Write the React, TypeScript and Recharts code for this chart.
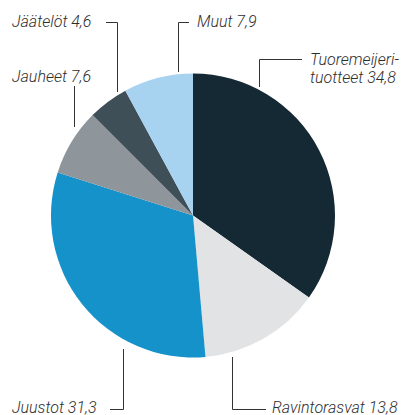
import React from "react";
import { PieChart, Pie, Cell } from "recharts";

const categories = ["Tuoremeijeri-tuotteet", "Ravintorasvat", "Juustot", "Jauheet", "Jäätelöt", "Muut"];
const shares = [34.8, 13.8, 31.3, 7.6, 4.6, 7.9];
const labelTexts = [
  ["Tuoremeijeri-", "tuotteet 34,8"],
  ["Ravintorasvat 13,8"],
  ["Juustot 31,3"],
  ["Jauheet 7,6"],
  ["Jäätelöt 4,6"],
  ["Muut 7,9"],
];

const colors = ["#152935", "#e2e3e5", "#1592ca", "#8e959b", "#3e4f58", "#a8d3f0"];

const data = categories.map((name, i) => ({ name, value: shares[i] }));

// label layout: text anchor + leader polyline
const layout = [
  { x: 310, y: [65, 83], line: [[302, 59.5], [259.5, 59.5], [259.5, 87]] },
  { x: 272, y: [413], line: [[266, 409.5], [232.5, 409.5], [232.5, 357]] },
  { x: 12, y: [413], line: [[110, 409.5], [123.5, 409.5], [123.5, 349]] },
  { x: 12, y: [82], line: [[74.5, 86], [74.5, 127]] },
  { x: 12, y: [27], line: [[106, 22.5], [117.5, 22.5], [117.5, 92]] },
  { x: 197, y: [27], line: [[189, 22.5], [178.5, 22.5], [178.5, 72]] },
];

const renderLabel = (props: any) => {
  const i = props.index;
  const l = layout[i];
  return (
    <g key={"lbl" + i}>
      <polyline
        points={l.line.map((p) => p.join(",")).join(" ")}
        fill="none"
        stroke="#333"
        strokeWidth={1}
      />
      {labelTexts[i].map((t, j) => (
        <text
          key={j}
          x={l.x}
          y={l.y[j]}
          fill="#2e2e2e"
          fontSize={16}
          fontStyle="italic"
          fontWeight={300}
          fontFamily="Roboto, 'Liberation Sans', Arial, sans-serif"
          textAnchor="start"
        >
          {t}
        </text>
      ))}
    </g>
  );
};

export default function App() {
  return (
    <div style={{ position: "absolute", left: 0, top: 0, width: 401, height: 415, background: "#fff" }}>
      <PieChart width={401} height={415} margin={{ top: 0, right: 0, bottom: 0, left: 0 }}>
        <Pie
          data={data}
          dataKey="value"
          nameKey="name"
          cx={193}
          cy={215.5}
          outerRadius={142}
          startAngle={90}
          endAngle={-270}
          stroke="none"
          isAnimationActive={false}
          label={renderLabel}
          labelLine={false}
        >
          {data.map((d, i) => (
            <Cell key={d.name} fill={colors[i]} />
          ))}
        </Pie>
      </PieChart>
    </div>
  );
}
